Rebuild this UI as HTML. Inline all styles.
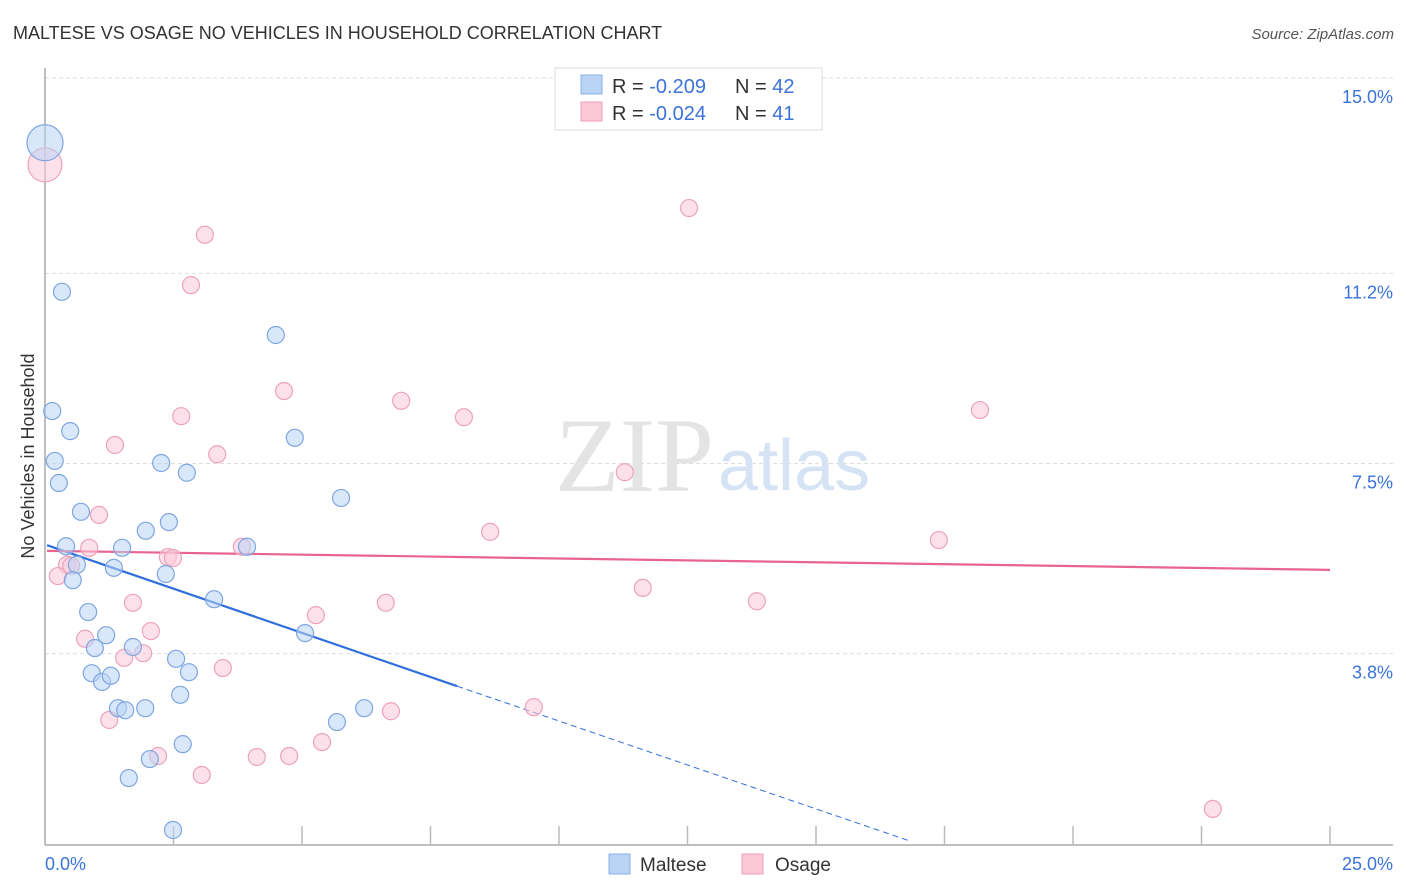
<!DOCTYPE html>
<html><head><meta charset="utf-8"><style>
body{margin:0;background:#fff;font-family:"Liberation Sans",sans-serif;}
svg{display:block}
</style></head><body>
<svg id="chart" width="1406" height="892" xmlns="http://www.w3.org/2000/svg">
<text x="13" y="39" font-size="18" fill="#333">MALTESE VS OSAGE NO VEHICLES IN HOUSEHOLD CORRELATION CHART</text>
<text x="1394" y="39" font-size="15" fill="#555" font-style="italic" text-anchor="end">Source: ZipAtlas.com</text>
<text x="34" y="456" font-size="18" fill="#333" text-anchor="middle" transform="rotate(-90 34 456)">No Vehicles in Household</text>
<g id="grid"></g>
<text x="714" y="491" font-size="106" fill="#e4e4e4" font-family="Liberation Serif, serif" text-anchor="end">ZIP</text>
<text x="718" y="490" font-size="72" fill="#d5e3f5">atlas</text>
<line x1="45" y1="68" x2="45" y2="845" stroke="#aaa" stroke-width="1.5"/>
<line x1="45" y1="845" x2="1393" y2="845" stroke="#aaa" stroke-width="1.5"/>
<g id="ticks"></g>
<g id="trends"></g>
<g id="points"></g>
<text x="45" y="870" font-size="18" fill="#3b73d9">0.0%</text>
<text x="1393" y="870" font-size="18" fill="#3b73d9" text-anchor="end">25.0%</text>
<g>
<rect x="555" y="68" width="267" height="62" fill="#fff" stroke="#ddd"/>
<rect x="581" y="75" width="21" height="19" fill="#b9d3f5" stroke="#8ab0e6"/>
<rect x="581" y="102" width="21" height="19" fill="#fbc8d8" stroke="#f0a0bb"/>
<text x="612" y="93" font-size="20" fill="#333">R = <tspan fill="#3b73d9">-0.209</tspan><tspan x="735">N = </tspan><tspan fill="#3b73d9">42</tspan></text>
<text x="612" y="120" font-size="20" fill="#333">R = <tspan fill="#3b73d9">-0.024</tspan><tspan x="735">N = </tspan><tspan fill="#3b73d9"> 41</tspan></text>
</g>
<g>
<rect x="609" y="854" width="21" height="20" fill="#b9d3f5" stroke="#8ab0e6"/>
<text x="640" y="871" font-size="19" fill="#333">Maltese</text>
<rect x="742" y="854" width="21" height="20" fill="#fbc8d8" stroke="#f0a0bb"/>
<text x="775" y="871" font-size="19" fill="#333">Osage</text>
</g>
</svg>
<script>
const yTicks=[3.8,7.5,11.2,15.0];
const yTickLabels=["3.8%","7.5%","11.2%","15.0%"];
const xTicks=[2.5,5,7.5,10,12.5,15,17.5,20,22.5,25];
const malteseX=[0,0.33,0.14,0.49,0.19,0.27,0.70,0.41,0.62,0.54,0.84,1.19,0.97,0.91,1.11,1.28,1.42,1.56,1.71,1.95,1.63,2.04,2.49,2.26,2.76,2.41,1.96,1.50,1.34,2.35,3.29,2.55,2.80,2.63,2.68,4.49,4.86,5.76,3.93,5.06,5.68,6.21];
const malteseY=[13.74,10.84,8.52,8.13,7.55,7.12,6.56,5.89,5.53,5.23,4.61,4.16,3.91,3.42,3.25,3.37,2.74,2.70,3.93,2.74,1.38,1.75,0.37,7.51,7.32,6.36,6.19,5.86,5.47,5.35,4.86,3.70,3.44,3.00,2.04,10.0,8.00,6.83,5.88,4.20,2.47,2.74];
const osageX=[0,3.11,2.84,12.53,4.65,6.93,2.65,8.15,18.19,1.36,3.35,11.28,1.05,8.66,17.39,0.86,3.83,2.39,2.49,0.43,0.25,11.63,1.71,6.63,13.85,5.27,2.06,0.78,1.91,1.54,3.46,1.25,6.73,9.51,5.39,4.12,4.75,2.20,3.05,22.72,0.51];
const osageY=[13.31,11.95,10.97,12.47,8.91,8.72,8.42,8.40,8.54,7.86,7.68,7.33,6.50,6.17,6.01,5.86,5.88,5.68,5.66,5.53,5.31,5.08,4.79,4.79,4.82,4.55,4.24,4.09,3.81,3.72,3.52,2.51,2.68,2.76,2.08,1.79,1.81,1.81,1.44,0.78,5.51];
const malteseTrend=[5.91,-0.342];
const osageTrend=[5.80,-0.0148];
const NS="http://www.w3.org/2000/svg";
const sx=v=>45+v*51.4, sy=v=>849-v*51.4;
function mk(t,a,p){const e=document.createElementNS(NS,t);for(const k in a)e.setAttribute(k,a[k]);document.getElementById(p).appendChild(e);return e;}
yTicks.forEach((t,i)=>{
 const l=mk('line',{x1:45,x2:1393,y1:sy(t),y2:sy(t),stroke:'#ddd','stroke-dasharray':'4,3'},'grid');
 
 
 const tx=mk('text',{x:1393,y:sy(t)+25,'font-size':18,fill:'#3b73d9','text-anchor':'end'},'grid');
 tx.textContent=yTickLabels[i];
 
 
});
xTicks.forEach(t=>{
 const l=mk('line',{x1:sx(t),x2:sx(t),y1:826,y2:845,stroke:'#bbb','stroke-width':1.5},'ticks');
 
 
});
function pts(X,Y,fill,stroke,name){
 X.forEach((x,i)=>{
  const big=i===0;
  const c=mk('circle',{cx:sx(x),cy:sy(Y[i]),r:big?(name==='maltese-point'?18:17):8.5,fill:fill,'fill-opacity':0.55,stroke:stroke,'stroke-width':1.2},'points');
  
  
 });
}
pts(osageX,osageY,'#fbc8d8','#eda2bd','osage-point');
pts(malteseX,malteseY,'#b9d3f5','#7ea6e0','maltese-point');
const bEnd=8.02,bDash=16.83;
let l=mk('line',{x1:sx(0.04),y1:sy(malteseTrend[0]),x2:sx(bEnd),y2:sy(malteseTrend[0]+malteseTrend[1]*bEnd),stroke:'#2e6fdc','stroke-width':2.2},'trends');


l=mk('line',{x1:sx(bEnd),y1:sy(malteseTrend[0]+malteseTrend[1]*bEnd),x2:sx(bDash),y2:sy(malteseTrend[0]+malteseTrend[1]*bDash),stroke:'#2e6fdc','stroke-width':1,'stroke-dasharray':'6,4'},'trends');


l=mk('line',{x1:sx(0.04),y1:sy(osageTrend[0]),x2:sx(25),y2:sy(osageTrend[0]+osageTrend[1]*25),stroke:'#e8648f','stroke-width':2.2},'trends');


</script>
</body></html>
